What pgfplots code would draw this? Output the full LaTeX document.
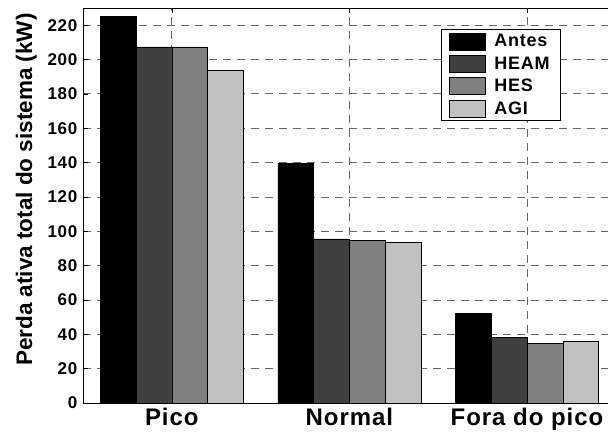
\documentclass[border=0pt]{standalone}
\usepackage{pgfplots}
\pgfplotsset{compat=1.18}
\usepackage{fontspec}
\setmainfont{Liberation Sans}[LetterSpace=4]
\newfontfamily\plainsans{Liberation Sans}
\usetikzlibrary{calc}
\definecolor{heam}{HTML}{404040}
\definecolor{hes}{HTML}{808080}
\definecolor{agi}{HTML}{C0C0C0}
\pgfplotsset{mylegend/.style={legend image code/.code={\draw[##1,draw=black,line width=0.6pt] (0pt,-8.5pt) rectangle (36pt,8.5pt); \path[draw=none,fill=none] (0pt,0pt) -- (42pt,0pt);}}}
\begin{document}
\begin{tikzpicture}
\begin{axis}[
 scale only axis, width=525pt, height=395pt,
 xmin=0.5, xmax=3.456, ymin=0, ymax=230,
 axis x line=box, axis y line=left, axis line style={-, line width=0.8pt, black},
 ybar=0pt, bar width=35.8pt,
 xtick={1,2,3}, xticklabels={Pico,Normal,Fora do pico},
 ytick={0,20,...,220},
 yticklabel={\textbf{\pgfmathprintnumber[assume math mode=true]{\tick}}},
 tick align=inside, major tick length=5pt,
 tick style={black, line width=0.6pt},
 grid=major, major grid style={dash pattern=on 8pt off 6pt, black!60, line width=0.8pt},
 yticklabel style={font=\fontsize{17}{17}\selectfont\bfseries, xshift=-1.5pt},
 xticklabel style={font=\fontsize{24}{24}\selectfont\bfseries, yshift=-2pt},
 ylabel={Perda ativa total do sistema (kW)},
 every axis y label/.style={at={(axis description cs:-0.108,0.54)}, rotate=90, anchor=center, font=\plainsans\fontsize{22.5}{22.5}\selectfont\bfseries},
 legend style={at={(axis description cs:1,1)}, anchor=north east, xshift=-47pt, yshift=-21pt, font=\fontsize{18}{18}\selectfont\bfseries, draw=black, line width=0.8pt, row sep=2.5pt, inner xsep=8pt, inner ysep=2pt, nodes={inner sep=3pt}},
 legend cell align=left,
]
\addplot[fill=black, draw=black, line width=0.6pt, mylegend] coordinates {(1,225.3) (2,139.5) (3,52.2)};
\addplot[fill=heam, draw=black, line width=0.6pt, mylegend] coordinates {(1,207.4) (2,95.6) (3,38.0)};
\addplot[fill=hes, draw=black, line width=0.6pt, mylegend] coordinates {(1,207.4) (2,94.9) (3,34.7)};
\addplot[fill=agi, draw=black, line width=0.6pt, mylegend] coordinates {(1,194.0) (2,93.5) (3,35.9)};
\legend{Antes\hspace{6pt},HEAM\hspace{6pt},HES,AGI}
\end{axis}
\pgfresetboundingbox
\path ($(current axis.south west)+(-83pt,-34pt)$) rectangle ($(current axis.north east)+(0pt,8pt)$);
\end{tikzpicture}
\end{document}
